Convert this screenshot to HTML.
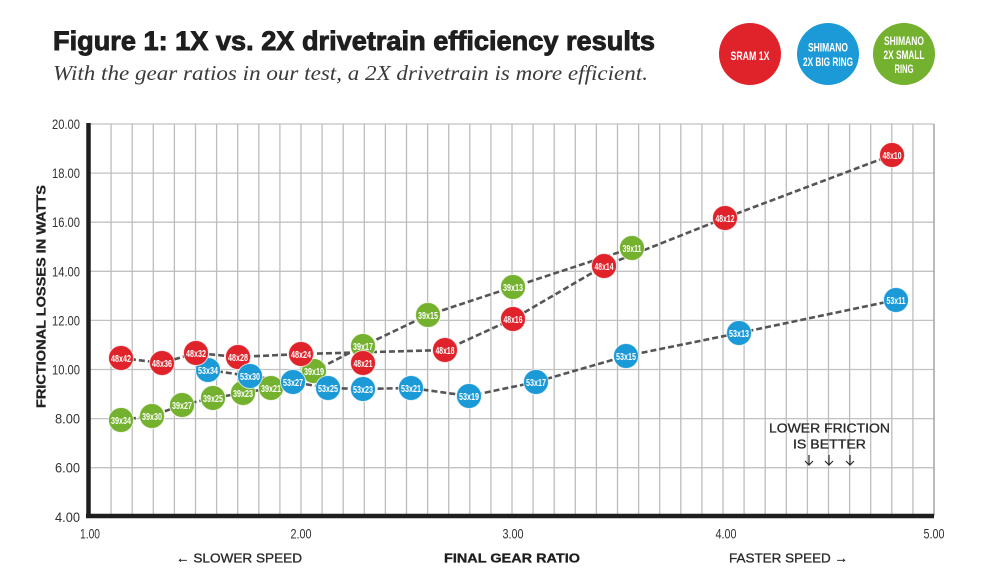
<!DOCTYPE html>
<html><head><meta charset="utf-8"><style>
html,body{margin:0;padding:0;background:#fff;}
svg{display:block;}
.cn{font-family:"Liberation Sans Narrow","Liberation Sans",sans-serif;}
.lb{font-family:"Liberation Sans Narrow","Liberation Sans",sans-serif;font-size:10.5px;fill:#fff;font-weight:bold;}
</style></head><body>
<svg width="996" height="582" viewBox="0 0 996 582" xmlns="http://www.w3.org/2000/svg">
<rect width="996" height="582" fill="#fff"/>
<!-- Title -->
<text x="53" y="50" font-family="Liberation Sans, sans-serif" font-weight="900" font-size="27" fill="#1e1e1e" textLength="602" lengthAdjust="spacingAndGlyphs" stroke="#1e1e1e" stroke-width="0.9">Figure 1: 1X vs. 2X drivetrain efficiency results</text>
<text x="53" y="80" font-family="Liberation Serif, serif" font-style="italic" font-size="21" fill="#3a3a3a" textLength="595" lengthAdjust="spacingAndGlyphs">With the gear ratios in our test, a 2X drivetrain is more efficient.</text>
<!-- Legend -->
<circle cx="750" cy="54" r="31" fill="#e0232a"/>
<circle cx="828" cy="54" r="31" fill="#1c9ad8"/>
<circle cx="904" cy="54" r="31" fill="#74b12e"/>
<g class="cn" font-size="11.5" font-weight="bold" fill="#fff" text-anchor="middle">
<text x="750" y="60" textLength="39" lengthAdjust="spacingAndGlyphs">SRAM 1X</text>
<text x="828" y="51.5" textLength="40" lengthAdjust="spacingAndGlyphs">SHIMANO</text>
<text x="828" y="66" textLength="50" lengthAdjust="spacingAndGlyphs">2X BIG RING</text>
<text x="904" y="45" textLength="40" lengthAdjust="spacingAndGlyphs">SHIMANO</text>
<text x="904" y="59" textLength="41" lengthAdjust="spacingAndGlyphs">2X SMALL</text>
<text x="904" y="73" textLength="19" lengthAdjust="spacingAndGlyphs">RING</text>
</g>
<!-- Grid -->
<g stroke="#c2c2c2" stroke-width="1.3">
<line x1="89" y1="124" x2="934" y2="124"/>
<line x1="89" y1="173.1" x2="934" y2="173.1"/>
<line x1="89" y1="222.2" x2="934" y2="222.2"/>
<line x1="89" y1="271.3" x2="934" y2="271.3"/>
<line x1="89" y1="320.4" x2="934" y2="320.4"/>
<line x1="89" y1="369.5" x2="934" y2="369.5"/>
<line x1="89" y1="418.6" x2="934" y2="418.6"/>
<line x1="89" y1="467.7" x2="934" y2="467.7"/>
</g>
<g stroke="#bdbdbd" stroke-width="1.3">
<line x1="111.1" y1="124" x2="111.1" y2="516"/><line x1="132.2" y1="124" x2="132.2" y2="516"/><line x1="153.3" y1="124" x2="153.3" y2="516"/><line x1="174.4" y1="124" x2="174.4" y2="516"/><line x1="195.5" y1="124" x2="195.5" y2="516"/><line x1="216.6" y1="124" x2="216.6" y2="516"/><line x1="237.7" y1="124" x2="237.7" y2="516"/><line x1="258.8" y1="124" x2="258.8" y2="516"/><line x1="279.9" y1="124" x2="279.9" y2="516"/><line x1="301" y1="124" x2="301" y2="516"/><line x1="322.1" y1="124" x2="322.1" y2="516"/><line x1="343.2" y1="124" x2="343.2" y2="516"/><line x1="364.3" y1="124" x2="364.3" y2="516"/><line x1="385.4" y1="124" x2="385.4" y2="516"/><line x1="406.5" y1="124" x2="406.5" y2="516"/><line x1="427.6" y1="124" x2="427.6" y2="516"/><line x1="448.7" y1="124" x2="448.7" y2="516"/><line x1="469.8" y1="124" x2="469.8" y2="516"/><line x1="490.9" y1="124" x2="490.9" y2="516"/><line x1="512" y1="124" x2="512" y2="516"/><line x1="533.1" y1="124" x2="533.1" y2="516"/><line x1="554.2" y1="124" x2="554.2" y2="516"/><line x1="575.3" y1="124" x2="575.3" y2="516"/><line x1="596.4" y1="124" x2="596.4" y2="516"/><line x1="617.5" y1="124" x2="617.5" y2="516"/><line x1="638.6" y1="124" x2="638.6" y2="516"/><line x1="659.7" y1="124" x2="659.7" y2="516"/><line x1="680.8" y1="124" x2="680.8" y2="516"/><line x1="701.9" y1="124" x2="701.9" y2="516"/><line x1="723" y1="124" x2="723" y2="516"/><line x1="744.1" y1="124" x2="744.1" y2="516"/><line x1="765.2" y1="124" x2="765.2" y2="516"/><line x1="786.3" y1="124" x2="786.3" y2="516"/><line x1="807.4" y1="124" x2="807.4" y2="516"/><line x1="828.5" y1="124" x2="828.5" y2="516"/><line x1="849.6" y1="124" x2="849.6" y2="516"/><line x1="870.7" y1="124" x2="870.7" y2="516"/><line x1="891.8" y1="124" x2="891.8" y2="516"/><line x1="912.9" y1="124" x2="912.9" y2="516"/>
<line x1="934" y1="124" x2="934" y2="516" stroke="#aaa" stroke-width="1.6"/>
</g>
<!-- Axes -->
<line x1="88.5" y1="123" x2="88.5" y2="518" stroke="#1e1e1e" stroke-width="4.5"/>
<line x1="86" y1="516" x2="934" y2="516" stroke="#1e1e1e" stroke-width="4.5"/>
<!-- Y tick labels -->
<g class="cn" font-size="14" fill="#333" text-anchor="end">
<text x="80" y="129" textLength="28" lengthAdjust="spacingAndGlyphs">20.00</text>
<text x="80" y="178.1" textLength="28" lengthAdjust="spacingAndGlyphs">18.00</text>
<text x="80" y="227.2" textLength="28" lengthAdjust="spacingAndGlyphs">16.00</text>
<text x="80" y="276.3" textLength="28" lengthAdjust="spacingAndGlyphs">14.00</text>
<text x="80" y="325.4" textLength="28" lengthAdjust="spacingAndGlyphs">12.00</text>
<text x="80" y="374.5" textLength="28" lengthAdjust="spacingAndGlyphs">10.00</text>
<text x="80" y="423.6" textLength="25" lengthAdjust="spacingAndGlyphs">8.00</text>
<text x="80" y="472.7" textLength="25" lengthAdjust="spacingAndGlyphs">6.00</text>
<text x="80" y="521.8" textLength="25" lengthAdjust="spacingAndGlyphs">4.00</text>
</g>
<!-- X tick labels -->
<g class="cn" font-size="14" fill="#333" text-anchor="middle">
<text x="90" y="538.5" textLength="20" lengthAdjust="spacingAndGlyphs">1.00</text>
<text x="301" y="538.5" textLength="21" lengthAdjust="spacingAndGlyphs">2.00</text>
<text x="513" y="538.5" textLength="21" lengthAdjust="spacingAndGlyphs">3.00</text>
<text x="726" y="538.5" textLength="21" lengthAdjust="spacingAndGlyphs">4.00</text>
<text x="934" y="538.5" textLength="21" lengthAdjust="spacingAndGlyphs">5.00</text>
</g>
<!-- Axis titles -->
<text transform="translate(45.5,296.5) rotate(-90)" text-anchor="middle" font-family="Liberation Sans, sans-serif" font-weight="bold" font-size="12.5" fill="#222" textLength="223" lengthAdjust="spacingAndGlyphs" stroke="#222" stroke-width="0.3">FRICTIONAL LOSSES IN WATTS</text>
<text x="176" y="562.5" font-family="Liberation Sans, sans-serif" font-size="12.5" fill="#2a2a2a" textLength="126" lengthAdjust="spacingAndGlyphs" stroke="#2a2a2a" stroke-width="0.3">← SLOWER SPEED</text>
<text x="444" y="562.5" font-family="Liberation Sans, sans-serif" font-weight="bold" font-size="12.5" fill="#1e1e1e" textLength="136" lengthAdjust="spacingAndGlyphs" stroke="#1e1e1e" stroke-width="0.3">FINAL GEAR RATIO</text>
<text x="729" y="562.5" font-family="Liberation Sans, sans-serif" font-size="12.5" fill="#2a2a2a" textLength="119" lengthAdjust="spacingAndGlyphs" stroke="#2a2a2a" stroke-width="0.3">FASTER SPEED →</text>
<!-- Annotation -->
<text x="769" y="432.5" font-family="Liberation Sans, sans-serif" font-size="12.5" fill="#2a2a2a" textLength="121" lengthAdjust="spacingAndGlyphs" stroke="#2a2a2a" stroke-width="0.3">LOWER FRICTION</text>
<text x="793" y="448.5" font-family="Liberation Sans, sans-serif" font-size="12.5" fill="#2a2a2a" textLength="73" lengthAdjust="spacingAndGlyphs" stroke="#2a2a2a" stroke-width="0.3">IS BETTER</text>
<g stroke="#2a2a2a" stroke-width="1.2" fill="none">
<path d="M809 455 V465 M805 461 L809 465 L813 461"/>
<path d="M829 455 V465 M825 461 L829 465 L833 461"/>
<path d="M850 455 V465 M846 461 L850 465 L854 461"/>
</g>
<!-- Dashed series lines -->
<g fill="none" stroke="#555" stroke-width="2.6" stroke-dasharray="6 3">
<polyline points="121,358 162,363 196,353 238,357 301,354 445,350 513,319 604,266 725,218 892,155"/>
<polyline points="121,420 152,416 182,405 213,398 243,393 271,388 314,371 363,346 428,315 513,287 632,248"/>
<polyline points="208,370 250,376 293,382 328,388 363,389 411,388 469,396 536,382 626,356 739,333 896,300"/>
</g>
<!-- Green circles -->
<g stroke="#fff" stroke-width="1" stroke-opacity="0.7" fill="#74b12e">
<circle cx="121" cy="420" r="12.5"/><circle cx="152" cy="416" r="12.5"/><circle cx="182" cy="405" r="12.5"/><circle cx="213" cy="398" r="12.5"/><circle cx="243" cy="393" r="12.5"/><circle cx="271" cy="388" r="12.5"/><circle cx="314" cy="371" r="12.5"/><circle cx="363" cy="346" r="12.5"/><circle cx="428" cy="315" r="12.5"/><circle cx="513" cy="287" r="12.5"/><circle cx="632" cy="248" r="12.5"/>
</g>
<g class="lb" text-anchor="middle">
<text x="121" y="423.8" textLength="20" lengthAdjust="spacingAndGlyphs">39x34</text>
<text x="152" y="419.8" textLength="20" lengthAdjust="spacingAndGlyphs">39x30</text>
<text x="182" y="408.8" textLength="20" lengthAdjust="spacingAndGlyphs">39x27</text>
<text x="213" y="401.8" textLength="20" lengthAdjust="spacingAndGlyphs">39x25</text>
<text x="243" y="396.8" textLength="20" lengthAdjust="spacingAndGlyphs">39x23</text>
<text x="271" y="391.8" textLength="20" lengthAdjust="spacingAndGlyphs">39x21</text>
<text x="314" y="374.8" textLength="20" lengthAdjust="spacingAndGlyphs">39x19</text>
<text x="363" y="349.8" textLength="20" lengthAdjust="spacingAndGlyphs">39x17</text>
<text x="428" y="318.8" textLength="20" lengthAdjust="spacingAndGlyphs">39x15</text>
<text x="513" y="290.8" textLength="20" lengthAdjust="spacingAndGlyphs">39x13</text>
<text x="632" y="251.8" textLength="19" lengthAdjust="spacingAndGlyphs">39x11</text>
</g>
<!-- Red 48x28 (under blue) -->
<circle cx="238" cy="357" r="12.5" fill="#e0232a" stroke="#fff" stroke-width="1" stroke-opacity="0.7"/>
<text class="lb" x="238" y="360.8" text-anchor="middle" textLength="20" lengthAdjust="spacingAndGlyphs">48x28</text>
<!-- Blue circles -->
<g stroke="#fff" stroke-width="1" stroke-opacity="0.7" fill="#1c9ad8">
<circle cx="208" cy="370" r="12.5"/><circle cx="250" cy="376" r="12.5"/><circle cx="293" cy="382" r="12.5"/><circle cx="328" cy="388" r="12.5"/><circle cx="363" cy="389" r="12.5"/><circle cx="411" cy="388" r="12.5"/><circle cx="469" cy="396" r="12.5"/><circle cx="536" cy="382" r="12.5"/><circle cx="626" cy="356" r="12.5"/><circle cx="739" cy="333" r="12.5"/><circle cx="896" cy="300" r="12.5"/>
</g>
<g class="lb" text-anchor="middle">
<text x="208" y="373.8" textLength="20" lengthAdjust="spacingAndGlyphs">53x34</text>
<text x="250" y="379.8" textLength="20" lengthAdjust="spacingAndGlyphs">53x30</text>
<text x="293" y="385.8" textLength="20" lengthAdjust="spacingAndGlyphs">53x27</text>
<text x="328" y="391.8" textLength="20" lengthAdjust="spacingAndGlyphs">53x25</text>
<text x="363" y="392.8" textLength="20" lengthAdjust="spacingAndGlyphs">53x23</text>
<text x="411" y="391.8" textLength="20" lengthAdjust="spacingAndGlyphs">53x21</text>
<text x="469" y="399.8" textLength="20" lengthAdjust="spacingAndGlyphs">53x19</text>
<text x="536" y="385.8" textLength="20" lengthAdjust="spacingAndGlyphs">53x17</text>
<text x="626" y="359.8" textLength="20" lengthAdjust="spacingAndGlyphs">53x15</text>
<text x="739" y="336.8" textLength="20" lengthAdjust="spacingAndGlyphs">53x13</text>
<text x="896" y="303.8" textLength="19" lengthAdjust="spacingAndGlyphs">53x11</text>
</g>
<!-- Red circles -->
<g stroke="#fff" stroke-width="1" stroke-opacity="0.7" fill="#e0232a">
<circle cx="121" cy="358" r="12.5"/><circle cx="162" cy="363" r="12.5"/><circle cx="196" cy="353" r="12.5"/><circle cx="301" cy="354" r="12.5"/><circle cx="363" cy="363" r="12.5"/><circle cx="445" cy="350" r="12.5"/><circle cx="513" cy="319" r="12.5"/><circle cx="604" cy="266" r="12.5"/><circle cx="725" cy="218" r="12.5"/><circle cx="892" cy="155" r="12.5"/>
</g>
<g class="lb" text-anchor="middle">
<text x="121" y="361.8" textLength="20" lengthAdjust="spacingAndGlyphs">48x42</text>
<text x="162" y="366.8" textLength="20" lengthAdjust="spacingAndGlyphs">48x36</text>
<text x="196" y="356.8" textLength="20" lengthAdjust="spacingAndGlyphs">48x32</text>
<text x="301" y="357.8" textLength="20" lengthAdjust="spacingAndGlyphs">48x24</text>
<text x="363" y="366.8" textLength="19" lengthAdjust="spacingAndGlyphs">48x21</text>
<text x="445" y="353.8" textLength="19" lengthAdjust="spacingAndGlyphs">48x18</text>
<text x="513" y="322.8" textLength="19" lengthAdjust="spacingAndGlyphs">48x16</text>
<text x="604" y="269.8" textLength="19" lengthAdjust="spacingAndGlyphs">48x14</text>
<text x="725" y="221.8" textLength="19" lengthAdjust="spacingAndGlyphs">48x12</text>
<text x="892" y="158.8" textLength="19" lengthAdjust="spacingAndGlyphs">48x10</text>
</g>
</svg>
</body></html>
